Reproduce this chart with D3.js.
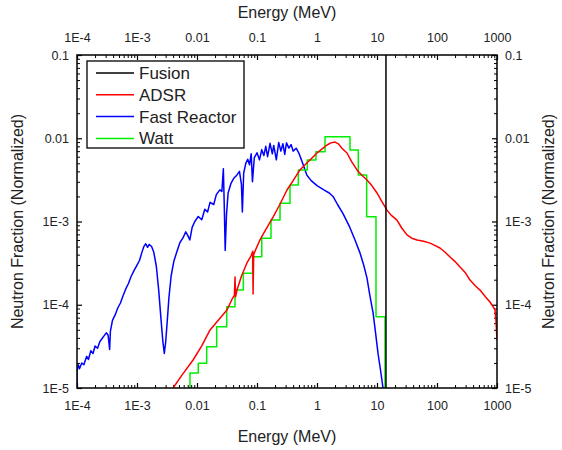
<!DOCTYPE html>
<html lang="en">
<head>
  <meta charset="UTF-8">
  <title>Neutron spectra</title>
  <script src="https://d3js.org/d3.v7.min.js"></script>
  <style>
    body { margin: 0; background: #fff; }
    svg { font-family: "Liberation Sans", Arial, sans-serif; }
    .line { fill: none; stroke-width: 1.5px; stroke-linejoin: round; }
    .tick text { font-size: 12.5px; fill: #222; }
    .axis-title { font-size: 16px; fill: #222; }
  </style>
</head>
<body>
  <svg></svg>
  <script>
    // tick values / labels
    const xTicks = [1e-4, 1e-3, 0.01, 0.1, 1, 10, 100, 1000];
    const xTickLabels = ['1E-4', '1E-3', '0.01', '0.1', '1', '10', '100', '1000'];
    const yTicks = [1e-5, 1e-4, 1e-3, 0.01, 0.1];
    const yTickLabels = ['1E-5', '1E-4', '1E-3', '0.01', '0.1'];
    const seriesNames = ['Fusion', 'ADSR', 'Fast Reactor', 'Watt'];

    // Fusion: single line at 14.1 MeV
    const fusionE = [14.1, 14.1];
    const fusionV = [1e-5, 0.1];

    // Fast reactor spectrum (MeV, fraction)
    const fastE = [1.0e-4, 1.0e-4, 1.05e-4, 1.1e-4, 1.2e-4, 1.3e-4, 1.45e-4, 1.55e-4, 1.7e-4, 1.85e-4,
      2.0e-4, 2.2e-4, 2.4e-4, 2.6e-4, 2.8e-4, 3.1e-4, 3.3e-4, 3.5e-4, 3.6e-4, 3.9e-4,
      4.3e-4, 4.8e-4, 5.3e-4, 5.9e-4, 6.5e-4, 7.2e-4, 8.0e-4, 9.0e-4, 1.0e-3, 1.1e-3,
      1.2e-3, 1.3e-3, 1.4e-3, 1.5e-3, 1.6e-3, 1.75e-3, 1.9e-3, 2.1e-3, 2.3e-3, 2.5e-3,
      2.7e-3, 2.85e-3, 3.0e-3, 3.2e-3, 3.4e-3, 3.7e-3, 4.1e-3, 4.6e-3, 5.2e-3, 5.8e-3,
      6.5e-3, 7.0e-3, 7.6e-3, 8.3e-3, 9.2e-3, 0.0105, 0.012, 0.0135, 0.015, 0.0165,
      0.019, 0.021, 0.024, 0.026, 0.0275, 0.0285, 0.0295, 0.031, 0.033, 0.037,
      0.041, 0.046, 0.051, 0.055, 0.057, 0.06, 0.065, 0.07, 0.075, 0.08,
      0.084, 0.09, 0.1, 0.11, 0.12, 0.13, 0.14, 0.15, 0.165, 0.18,
      0.19, 0.21, 0.23, 0.25, 0.27, 0.29, 0.31, 0.34, 0.37, 0.4,
      0.45, 0.5, 0.55, 0.6, 0.68, 0.8, 1.0, 1.3, 1.6, 1.85,
      2.2, 2.7, 3.5, 4.3, 5.2, 6.0, 6.8, 7.6, 8.6, 9.5,
      10.4, 11.5, 12.6];
    const fastV = [9e-6, 1.6e-5, 1.9e-5, 1.7e-5, 2.0e-5, 1.9e-5, 2.4e-5, 2.2e-5, 2.8e-5, 2.6e-5,
      3.2e-5, 3.0e-5, 3.6e-5, 3.9e-5, 4.2e-5, 4.6e-5, 4.3e-5, 2.9e-5, 4.8e-5, 6.5e-5,
      7.5e-5, 9.2e-5, 1.05e-4, 1.3e-4, 1.55e-4, 1.8e-4, 2.2e-4, 2.6e-4, 3.0e-4, 3.4e-4,
      4.2e-4, 5.0e-4, 5.4e-4, 4.9e-4, 5.3e-4, 5.0e-4, 4.3e-4, 2.9e-4, 1.5e-4, 7.0e-5,
      3.6e-5, 2.6e-5, 3.5e-5, 6.5e-5, 1.2e-4, 2.2e-4, 3.3e-4, 4.3e-4, 5.6e-4, 6.3e-4,
      7.5e-4, 6.8e-4, 6.0e-4, 8.5e-4, 1.0e-3, 1.15e-3, 1.05e-3, 1.4e-3, 1.3e-3, 1.7e-3,
      1.6e-3, 2.1e-3, 2.4e-3, 2.3e-3, 4.3e-3, 1.5e-3, 4.5e-4, 1.2e-3, 2.2e-3, 2.9e-3,
      3.3e-3, 3.6e-3, 4.0e-3, 2.8e-3, 1.3e-3, 3.8e-3, 5.0e-3, 5.6e-3, 4.8e-3, 6.5e-3,
      3.0e-3, 5.8e-3, 6.7e-3, 5.5e-3, 7.3e-3, 6.2e-3, 8.0e-3, 6.0e-3, 8.7e-3, 6.5e-3,
      8.2e-3, 5.5e-3, 8.9e-3, 7.0e-3, 8.6e-3, 6.4e-3, 8.8e-3, 7.6e-3, 8.4e-3, 7.0e-3,
      7.6e-3, 6.6e-3, 5.5e-3, 4.6e-3, 3.6e-3, 3.1e-3, 2.7e-3, 2.4e-3, 2.2e-3, 2.0e-3,
      1.6e-3, 1.25e-3, 8.6e-4, 6.0e-4, 4.2e-4, 3.0e-4, 2.1e-4, 1.3e-4, 8.0e-5, 4.5e-5,
      2.6e-5, 1.6e-5, 1.0e-5];

    // ADSR spectrum
    const adsrE = [0.0040, 0.0055, 0.0086, 0.012, 0.0165, 0.023, 0.0316, 0.038, 0.042, 0.043,
      0.044, 0.0464, 0.055, 0.068, 0.08, 0.085, 0.086, 0.088, 0.095, 0.112,
      0.14, 0.185, 0.24, 0.316, 0.40, 0.52, 0.65, 0.764, 1.0, 1.2,
      1.47, 1.7, 2.0, 2.3, 2.6, 3.16, 3.8, 4.64, 5.6, 6.81,
      8.2, 10, 12, 14.7, 17, 21.5, 26, 31.6, 38, 46.4,
      60, 76.5, 90, 112, 135, 165, 200, 242, 300, 355,
      430, 521, 640, 764, 850, 926, 960, 1000];
    const adsrV = [1.0e-5, 1.4e-5, 2.17e-5, 3.2e-5, 4.98e-5, 6.6e-5, 8.65e-5, 1.15e-4, 1.3e-4, 2.15e-4,
      1.25e-4, 1.5e-4, 2.2e-4, 3.18e-4, 3.9e-4, 4.4e-4, 1.35e-4, 4.0e-4, 4.6e-4, 6.0e-4,
      8.0e-4, 1.13e-3, 1.6e-3, 2.39e-3, 3.1e-3, 4.16e-3, 4.9e-3, 5.48e-3, 6.65e-3, 7.4e-3,
      8.3e-3, 8.8e-3, 9.0e-3, 8.5e-3, 7.6e-3, 6.65e-3, 5.2e-3, 4.16e-3, 3.6e-3, 3.15e-3,
      2.7e-3, 2.2e-3, 1.75e-3, 1.37e-3, 1.2e-3, 1.04e-3, 8.3e-4, 6.9e-4, 6.3e-4, 6.0e-4,
      5.8e-4, 5.5e-4, 5.2e-4, 4.8e-4, 4.3e-4, 3.75e-4, 3.3e-4, 2.84e-4, 2.4e-4, 1.98e-4,
      1.7e-4, 1.5e-4, 1.25e-4, 1.08e-4, 9.6e-5, 8.65e-5, 6.5e-5, 3.8e-5];

    // Watt spectrum: histogram bin edges and bin values
    const wattEdges = [0.00764, 0.0105, 0.0145, 0.0213, 0.0313, 0.043, 0.0592, 0.0847, 0.12, 0.171,
      0.242, 0.355, 0.488, 0.689, 0.962, 1.36, 3.55, 4.88, 6.73, 9.62, 13.6];
    const wattV = [1.51e-5, 1.98e-5, 3.13e-5, 5.44e-5, 9.48e-5, 1.5e-4, 2.39e-4, 3.78e-4, 6.28e-4, 1.04e-3,
      1.66e-3, 2.74e-3, 4.16e-3, 5.48e-3, 6.89e-3, 1.04e-2, 7.23e-3, 3.62e-3, 1.14e-3, 7.18e-5];

    const colors = ['#000000', '#ff0000', '#0000ff', '#00ee00'];

    const W = 562, H = 450;
    const margin = { top: 55, right: 65, bottom: 62, left: 77 };
    const width = W - margin.left - margin.right;
    const height = H - margin.top - margin.bottom;

    const svg = d3.select('svg').attr('width', W).attr('height', H);
    const g = svg.append('g').attr('transform', `translate(${margin.left},${margin.top})`);

    const x = d3.scaleLog().domain([1e-4, 1000]).range([0, width]);
    const y = d3.scaleLog().domain([1e-5, 0.1]).range([height, 0]);

    const minorX = [];
    for (let d = -4; d < 3; d++) for (let k = 2; k <= 9; k++) minorX.push(k * Math.pow(10, d));
    const minorY = [];
    for (let d = -5; d < -1; d++) for (let k = 2; k <= 9; k++) minorY.push(k * Math.pow(10, d));

    function fmt(ticks, labels) { return v => labels[ticks.indexOf(v)]; }

    function addAxis(axisFn, scale, ticks, labels, minors, transform) {
      const vertical = axisFn === d3.axisLeft || axisFn === d3.axisRight;
      const major = g.append('g').attr('transform', transform)
        .call(axisFn(scale).tickValues(ticks).tickFormat(fmt(ticks, labels))
          .tickSizeInner(-5).tickSizeOuter(0).tickPadding(vertical ? 8 : 13));
      major.select('.domain').remove();
      major.selectAll('line').attr('stroke', '#000').attr('stroke-width', 1.2);
      const minor = g.append('g').attr('transform', transform)
        .call(axisFn(scale).tickValues(minors).tickFormat('').tickSizeInner(-3).tickSizeOuter(0));
      minor.select('.domain').remove();
      minor.selectAll('line').attr('stroke', '#000').attr('stroke-width', 1);
    }

    addAxis(d3.axisBottom, x, xTicks, xTickLabels, minorX, `translate(0,${height})`);
    addAxis(d3.axisTop, x, xTicks, xTickLabels, minorX, 'translate(0,0)');
    addAxis(d3.axisLeft, y, yTicks, yTickLabels, minorY, 'translate(0,0)');
    addAxis(d3.axisRight, y, yTicks, yTickLabels, minorY, `translate(${width},0)`);

    g.append('clipPath').attr('id', 'clip')
      .append('rect').attr('width', width).attr('height', height);

    const line = d3.line().x(d => x(d[0])).y(d => y(d[1]));
    const stepLine = d3.line().x(d => x(d[0])).y(d => y(d[1])).curve(d3.curveStepAfter);

    const plot = g.append('g').attr('clip-path', 'url(#clip)');

    const fastPts = fastE.map((e, i) => [e, fastV[i]]);
    const adsrPts = adsrE.map((e, i) => [e, adsrV[i]]);
    const wattPts = [[wattEdges[0], 1e-6]].concat(wattV.map((v, i) => [wattEdges[i], v]));
    wattPts.push([wattEdges[wattEdges.length - 1], wattV[wattV.length - 1]]);
    wattPts.push([wattEdges[wattEdges.length - 1], 1e-6]);
    const fusionPts = fusionE.map((e, i) => [e, fusionV[i]]);

    plot.append('path').attr('class', 'line').attr('stroke', colors[2]).attr('stroke-width', 1.7).attr('d', line(fastPts));
    plot.append('path').attr('class', 'line').attr('stroke', colors[3]).attr('d', stepLine(wattPts));
    plot.append('path').attr('class', 'line').attr('stroke', colors[1]).attr('d', line(adsrPts));
    plot.append('path').attr('class', 'line').attr('stroke', colors[0]).attr('d', line(fusionPts));

    // frame
    g.append('rect').attr('width', width).attr('height', height)
      .attr('fill', 'none').attr('stroke', '#000').attr('stroke-width', 1.5);

    // legend
    const lg = g.append('g').attr('transform', 'translate(10,6)');
    lg.append('rect').attr('width', 157).attr('height', 87)
      .attr('fill', '#fff').attr('stroke', '#000').attr('stroke-width', 1.3);
    seriesNames.forEach((name, i) => {
      const yy = 12 + i * 21.8;
      lg.append('line').attr('x1', 9).attr('x2', 47).attr('y1', yy).attr('y2', yy)
        .attr('stroke', colors[i]).attr('stroke-width', 1.5);
      lg.append('text').attr('x', 52).attr('y', yy).attr('dy', '0.35em')
        .attr('font-size', '17px').attr('fill', '#222').text(name);
    });

    // axis titles
    svg.append('text').attr('class', 'axis-title').attr('x', margin.left + width / 2).attr('y', 18)
      .attr('text-anchor', 'middle').text('Energy (MeV)');
    svg.append('text').attr('class', 'axis-title').attr('x', margin.left + width / 2).attr('y', 442)
      .attr('text-anchor', 'middle').text('Energy (MeV)');
    svg.append('text').attr('class', 'axis-title')
      .attr('transform', `translate(23,${margin.top + height / 2}) rotate(-90)`)
      .attr('text-anchor', 'middle').text('Neutron Fraction (Normalized)');
    svg.append('text').attr('class', 'axis-title')
      .attr('transform', `translate(554,${margin.top + height / 2}) rotate(-90)`)
      .attr('text-anchor', 'middle').text('Neutron Fraction (Normalized)');
  </script>
</body>
</html>
